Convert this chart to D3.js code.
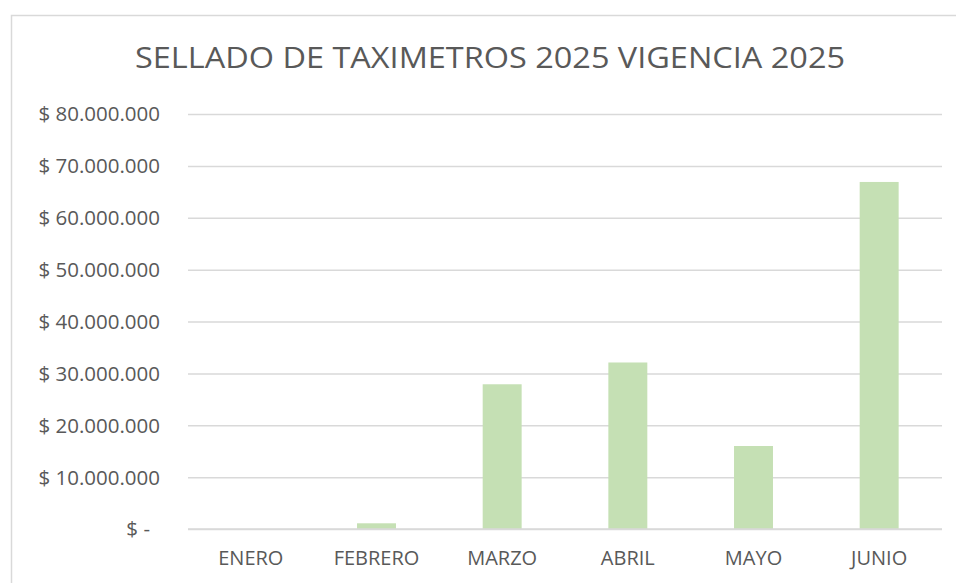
<!DOCTYPE html>
<html lang="es">
<head>
  <meta charset="utf-8">
  <script src="https://d3js.org/d3.v7.min.js"></script>
  <title>Sellado de taximetros</title>
  <style>
    body { margin: 0; background: #fff; }
    text { font-family: "Open Sans", "DejaVu Sans", sans-serif; fill: #595959; }
    .grid line { stroke: #d9d9d9; stroke-width: 1.5px; }
    .grid .domain { display: none; }
  </style>
</head>
<body>
  <svg id="chart" width="956" height="583"></svg>
  <script>
    // data
    const months = ["ENERO", "FEBRERO", "MARZO", "ABRIL", "MAYO", "JUNIO"];
    const values = [0, 1100000, 27900000, 32100000, 16000000, 66900000];
    const yTicks = [0, 10000000, 20000000, 30000000, 40000000, 50000000, 60000000, 70000000, 80000000];
    const title = "SELLADO DE TAXIMETROS 2025 VIGENCIA 2025";

    function drawChart() {
      let svg = d3.select("#chart");

      // outer chart frame (runs off the right and bottom edge)
      svg.append("rect")
        .attr("x", 11.5).attr("y", 15.5)
        .attr("width", 980).attr("height", 620)
        .style("fill", "none")
        .style("stroke", "#d9d9d9")
        .style("stroke-width", 1.5);

      let plotLeft = 188, plotRight = 942, plotTop = 114, plotBottom = 529;

      let x = d3.scaleBand()
        .domain(months)
        .range([plotLeft, plotRight])
        .paddingInner(0.69)
        .paddingOuter(0.345);

      let y = d3.scaleLinear()
        .domain([0, 80000000])
        .range([plotBottom, plotTop]);

      function money(d) {
        if (d === 0) return "$ -";
        return "$ " + d3.format(",")(d).replace(/,/g, ".");
      }

      // gridlines
      svg.append("g")
        .attr("class", "grid")
        .attr("transform", `translate(${plotLeft},0)`)
        .call(d3.axisLeft(y).tickValues(yTicks).tickSize(-(plotRight - plotLeft)).tickFormat(""));

      // y labels
      svg.append("g").selectAll("text")
        .data(yTicks)
        .join("text")
        .attr("x", d => d === 0 ? 150 : 160)
        .attr("y", d => y(d))
        .attr("dy", "0.36em")
        .attr("text-anchor", "end")
        .style("font-size", "20.5px")
        .text(money);

      // bars
      svg.append("g").selectAll("rect")
        .data(values)
        .join("rect")
        .attr("x", (d, i) => x(months[i]))
        .attr("width", x.bandwidth())
        .attr("y", d => y(d))
        .attr("height", d => y(0) - y(d))
        .style("fill", "#c5e0b4");

      // baseline on top of bars
      svg.append("line")
        .attr("x1", plotLeft).attr("x2", plotRight)
        .attr("y1", y(0)).attr("y2", y(0))
        .style("stroke", "#d9d9d9")
        .style("stroke-width", 1.5);

      // x labels
      svg.append("g").selectAll("text")
        .data(months)
        .join("text")
        .attr("x", d => x(d) + x.bandwidth() / 2)
        .attr("y", 565)
        .attr("text-anchor", "middle")
        .style("font-size", "20px")
        .text(d => d);

      // title
      svg.append("text")
        .attr("x", 490)
        .attr("y", 68)
        .attr("text-anchor", "middle")
        .attr("textLength", 710)
        .attr("lengthAdjust", "spacingAndGlyphs")
        .style("font-size", "30px")
        .text(title);
    }
    drawChart();
  </script>
</body>
</html>
